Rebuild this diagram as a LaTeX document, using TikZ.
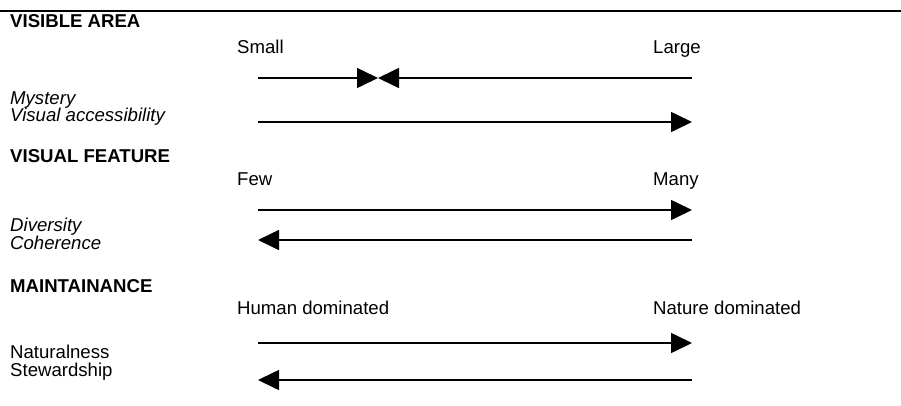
\documentclass[tikz,border=0pt]{standalone}
\usepackage{fontspec}
\setmainfont{Liberation Sans}
\usetikzlibrary{arrows.meta}
\begin{document}
\begin{tikzpicture}[x=1pt,y=-1pt,
  lbl/.style={anchor=base west,inner sep=0pt,font=\fontsize{18.6}{20}\selectfont},
  headlbl/.style={lbl,font=\fontsize{18.6}{20}\selectfont\bfseries},
  critlbl/.style={lbl,font=\fontsize{18.6}{20}\selectfont\itshape},
  arrowline/.style={line width=1.6pt,-{Triangle[length=21pt,width=20pt]}},
  plainline/.style={line width=1.6pt}]
\useasboundingbox (0,0) rectangle (901,405);
% top rule
\coordinate (rl) at (0,11);
\coordinate (rr) at (901,11);
\draw[line width=2pt] (rl) -- (rr);

% section 1
\node[headlbl] (h1) at (10,27) {VISIBLE AREA};
\node[lbl] (s1l) at (237,53) {Small};
\node[lbl] (s1r) at (653,53) {Large};
\node[critlbl] (c1a) at (10,104) {Mystery};
\node[critlbl] (c1b) at (10,121) {Visual accessibility};
\coordinate (a1l) at (258,78);
\coordinate (a1m) at (378,78);
\coordinate (a1r) at (692,78);
\draw[arrowline] (a1l) -- (a1m);
\draw[arrowline] (a1r) -- (a1m);
\coordinate (a2l) at (258,122);
\coordinate (a2r) at (692,122);
\draw[arrowline] (a2l) -- (a2r);

% section 2
\node[headlbl] (h2) at (10,162) {VISUAL FEATURE};
\node[lbl] (s2l) at (237,185) {Few};
\node[lbl] (s2r) at (653,185) {Many};
\node[critlbl] (c2a) at (10,231) {Diversity};
\node[critlbl] (c2b) at (10,249) {Coherence};
\coordinate (a3l) at (258,210);
\coordinate (a3r) at (692,210);
\draw[arrowline] (a3l) -- (a3r);
\coordinate (a4l) at (258,240);
\coordinate (a4r) at (692,240);
\draw[arrowline] (a4r) -- (a4l);

% section 3
\node[headlbl] (h3) at (10,292) {MAINTAINANCE};
\node[lbl] (s3l) at (237,314) {Human dominated};
\node[lbl] (s3r) at (653,314) {Nature dominated};
\node[lbl] (c3a) at (10,358) {Naturalness};
\node[lbl] (c3b) at (10,376) {Stewardship};
\coordinate (a5l) at (258,343);
\coordinate (a5r) at (692,343);
\draw[arrowline] (a5l) -- (a5r);
\coordinate (a6l) at (258,380);
\coordinate (a6r) at (692,380);
\draw[arrowline] (a6r) -- (a6l);
\end{tikzpicture}
\end{document}
